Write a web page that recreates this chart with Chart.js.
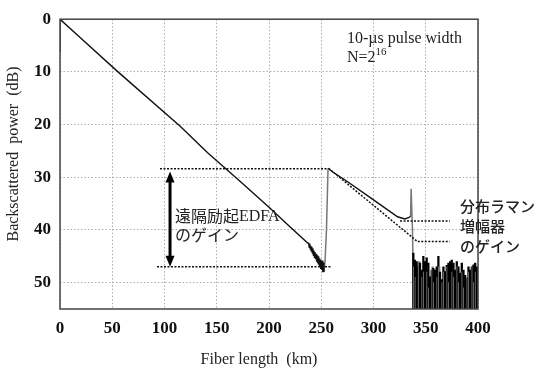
<!DOCTYPE html>
<html>
<head>
<meta charset="utf-8">
<script src="https://cdn.jsdelivr.net/npm/chart.js@4/dist/chart.umd.min.js"></script>
<style>
html,body{margin:0;padding:0;background:#fff;}
#wrap{width:535px;height:369px;}
</style>
</head>
<body>
<div id="wrap"><canvas id="c" width="535" height="369"></canvas></div>
<script>
// ---- Data ----
const xTicks = [0, 50, 100, 150, 200, 250, 300, 350, 400];
const yTicks = [0, 10, 20, 30, 40, 50];
const yBottom = 55;

// Main OTDR trace before the remote EDFA (km, dB)
const traceKm = [0, 0, 20, 55.5, 115, 141, 172, 200, 220, 237, 238, 238.5, 239, 239.5, 240, 240.5, 241, 241.5, 242, 242.5, 243, 243.5, 244, 244.5, 245, 245.5, 246, 246.5, 247, 247.5, 248, 248.5, 249, 249.5, 250, 250.5, 251, 251.5, 252, 252.5];
const traceDb = [6.3, 0, 3.6, 10, 20.3, 25.3, 30.7, 35.7, 39.4, 42.5, 42.5, 43.3, 42.6, 43.6, 43.0, 44.0, 43.2, 44.4, 43.5, 44.8, 43.9, 45.2, 44.2, 45.5, 44.5, 46.0, 44.8, 46.3, 45.0, 46.6, 45.4, 47.0, 45.6, 47.4, 46.0, 47.6, 45.8, 48.0, 46.2, 48.0];

// Gain step at the remote EDFA (grey)
const riseKm = [252.5, 253.6, 255.0, 256.5];
const riseDb = [48.0, 46.0, 40.0, 28.3];

// Trace after EDFA with distributed Raman gain
const ramanKm = [256.5, 261, 275.6, 300, 323, 330, 334, 335.5];
const ramanDb = [28.3, 29.0, 30.9, 34.3, 37.5, 37.9, 37.6, 37.4];

// Reflection spike near fiber end (grey)
const spikeKm = [335.5, 336.0, 336.8, 337.3, 338.1];
const spikeDb = [37.4, 32.2, 32.2, 40.0, 50.0];

// Noise floor beyond fiber end: top of each noise bar (dB)
const noiseKm = [338.1, 338.9, 339.7, 340.5, 341.3, 342.1, 342.9, 343.7, 344.5, 345.3, 346.1, 346.9, 347.7, 348.5, 349.3, 350.1, 350.9, 351.7, 352.5, 353.3, 354.1, 354.9, 355.7, 356.5, 357.3, 358.1, 358.9, 359.7, 360.5, 361.3, 362.1, 362.9, 363.7, 364.5, 365.3, 366.1, 366.9, 367.7, 368.5, 369.3, 370.1, 370.9, 371.7, 372.5, 373.3, 374.1, 374.9, 375.7, 376.5, 377.3, 378.1, 378.9, 379.7, 380.5, 381.3, 382.1, 382.9, 383.7, 384.5, 385.3, 386.1, 386.9, 387.7, 388.5, 389.3, 390.1, 390.9, 391.7, 392.5, 393.3, 394.1, 394.9, 395.7, 396.5, 397.3, 398.1, 398.9, 399.7];
const noiseDb = [44.4, 47, 45.7, 49, 46, 55, 47, 46, 46.3, 55, 47.6, 49, 45, 48, 46, 55, 45.3, 48, 46.3, 51, 48.9, 55, 47.6, 47, 47.3, 50, 47.6, 55, 47, 49, 45, 47, 48, 55, 49.4, 50, 47, 48, 47.9, 55, 46.7, 47, 46.3, 50, 46, 55, 45.7, 48, 46.3, 49, 47.6, 55, 46, 47, 47, 50, 48.2, 55, 46.3, 48, 47.6, 51, 48.6, 55, 49.2, 49, 47, 48, 47.6, 55, 47, 47, 46.6, 50, 46.3, 48, 47, 55];

// Expected trace without Raman gain (dotted) and reference levels
const noRamanKm = [257, 342, 373];
const noRamanDb = [28.3, 42.2, 42.2];
const ramanRefKm = [325.4, 373];
const ramanRefDb = [38.3, 38.3];
const edfaTopKm = [95.7, 256.5];
const edfaTopDb = [28.4, 28.4];
const edfaBotKm = [92.8, 260];
const edfaBotDb = [47.0, 47.0];

// Double arrow marking the EDFA gain
const arrowKm = 105.3;
const arrowDb = [28.9, 47.0];

const zip = (xs, ys) => xs.map((x, i) => ({x: x, y: ys[i]}));

const SERIF = '"Liberation Serif", "Times New Roman", serif';
const CJK = '"Noto Sans CJK JP", "Noto Sans", sans-serif';

const lineDs = (data, color, width, dash) => ({
  type: 'scatter',
  data: data, showLine: true, borderColor: color, borderWidth: width,
  borderDash: dash || [], pointRadius: 0, fill: false, tension: 0
});

const overlay = {
  id: 'overlay',
  afterDatasetsDraw(chart) {
    const ctx = chart.ctx, xs = chart.scales.x, ys = chart.scales.y;
    ctx.save();
    const ax = xs.getPixelForValue(arrowKm);
    const yt = ys.getPixelForValue(arrowDb[0]);
    const yb = ys.getPixelForValue(arrowDb[1]);
    ctx.strokeStyle = '#000'; ctx.fillStyle = '#000'; ctx.lineWidth = 3;
    ctx.beginPath(); ctx.moveTo(ax, yt + 8); ctx.lineTo(ax, yb - 8); ctx.stroke();
    ctx.beginPath(); ctx.moveTo(ax, yt); ctx.lineTo(ax - 4.5, yt + 11); ctx.lineTo(ax + 4.5, yt + 11); ctx.closePath(); ctx.fill();
    ctx.beginPath(); ctx.moveTo(ax, yb); ctx.lineTo(ax - 4.5, yb - 11); ctx.lineTo(ax + 4.5, yb - 11); ctx.closePath(); ctx.fill();
    ctx.restore();
  },
  afterDraw(chart) {
    const ctx = chart.ctx, a = chart.chartArea;
    ctx.save();
    ctx.strokeStyle = '#444'; ctx.lineWidth = 1.5;
    ctx.strokeRect(a.left, a.top, a.right - a.left, a.bottom - a.top);
    ctx.fillStyle = '#222';
    ctx.font = '16px ' + SERIF;
    ctx.textAlign = 'center'; ctx.textBaseline = 'middle';
    ctx.fillText('Fiber length  (km)', 259, 360);
    ctx.save();
    ctx.translate(14, 154); ctx.rotate(-Math.PI / 2);
    ctx.fillText('Backscattered  power  (dB)', 0, 0);
    ctx.restore();
    ctx.textAlign = 'left'; ctx.textBaseline = 'alphabetic';
    ctx.font = '16px ' + SERIF;
    ctx.fillText('10-\u00b5s pulse width', 347, 43);
    ctx.fillText('N=2', 347, 62);
    const nw = ctx.measureText('N=2').width;
    ctx.font = '11px ' + SERIF;
    ctx.fillText('16', 347 + nw, 55);
    ctx.textBaseline = 'middle';
    ctx.font = '16px ' + CJK;
    ctx.fillText('遠隔励起', 175, 216);
    const jw = ctx.measureText('遠隔励起').width;
    ctx.font = '16px ' + SERIF;
    ctx.fillText('EDFA', 175 + jw, 217);
    ctx.font = '16px ' + CJK;
    ctx.fillText('のゲイン', 175, 235);
    ctx.font = '500 15px ' + CJK;
    ctx.fillText('分布ラマン', 460, 206);
    ctx.fillText('増幅器', 460, 226);
    ctx.fillText('のゲイン', 460, 246);
    ctx.restore();
  }
};

new Chart(document.getElementById('c'), {
  type: 'scatter',
  data: {
    datasets: [
      {
        type: 'bar',
        data: noiseKm.map((x, i) => ({x: x, y: [yBottom, noiseDb[i]]})),
        backgroundColor: noiseKm.map((x, i) => (i % 2 ? '#7a7a7a' : '#000')),
        borderWidth: 0, barThickness: 1.6, grouped: false
      },
      lineDs(zip(edfaTopKm, edfaTopDb), '#111', 1.5, [2, 1.5]),
      lineDs(zip(edfaBotKm, edfaBotDb), '#111', 1.5, [2, 1.5]),
      lineDs(zip(noRamanKm, noRamanDb), '#111', 1.5, [2, 1.5]),
      lineDs(zip(ramanRefKm, ramanRefDb), '#111', 1.5, [2, 1.5]),
      lineDs(zip(traceKm, traceDb), '#111', 1.4),
      lineDs(zip(riseKm, riseDb), '#777', 1.5),
      lineDs(zip(ramanKm, ramanDb), '#111', 1.4),
      lineDs(zip(spikeKm, spikeDb), '#777', 1.5)
    ]
  },
  options: {
    responsive: false,
    devicePixelRatio: 1,
    animation: false,
    events: [],
    layout: {padding: {top: 14, right: 57, left: 0, bottom: 0}},
    plugins: {legend: {display: false}, tooltip: {enabled: false}},
    scales: {
      x: {
        type: 'linear', min: 0, max: 400, offset: false,
        afterBuildTicks(s) { s.ticks = xTicks.map(v => ({value: v})); },
        afterFit(s) { s.height = 60; },
        grid: {color: '#ababab', lineWidth: 1, drawTicks: false, offset: false},
        border: {display: false, dash: [1.5, 2]},
        ticks: {padding: 9, color: '#111', font: {family: SERIF, size: 17, weight: 'bold'}, maxRotation: 0, autoSkip: false}
      },
      y: {
        type: 'linear', min: 0, max: yBottom, reverse: true,
        afterBuildTicks(s) { s.ticks = yTicks.map(v => ({value: v})); },
        afterFit(s) { s.width = 60; },
        grid: {color: '#ababab', lineWidth: 1, drawTicks: false},
        border: {display: false, dash: [1.5, 2]},
        ticks: {padding: 9, color: '#111', font: {family: SERIF, size: 17, weight: 'bold'}, autoSkip: false}
      }
    }
  },
  plugins: [overlay]
});
</script>
</body>
</html>
